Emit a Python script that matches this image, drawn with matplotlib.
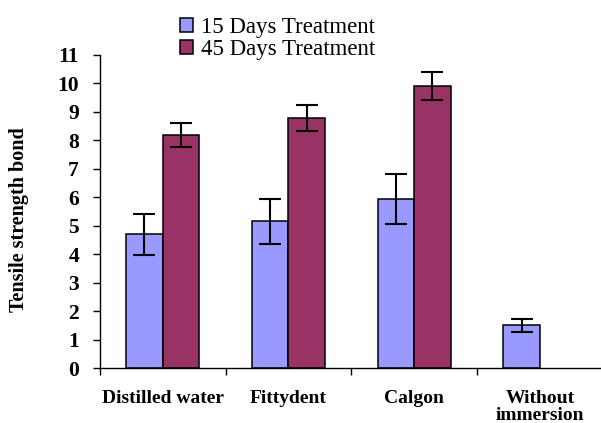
import matplotlib
matplotlib.use("Agg")
import matplotlib.pyplot as plt
import numpy as np

categories = ["Distilled water", "Fittydent", "Calgon", "Without\nimmersion"]
series_names = ["15 Days Treatment", "45 Days Treatment"]
vals_15 = [4.7, 5.15, 5.95, 1.5]
err_15 = [0.72, 0.78, 0.88, 0.22]
vals_45 = [8.2, 8.8, 9.9, np.nan]
err_45 = [0.42, 0.46, 0.49, np.nan]
yticks = list(range(0, 12))

plt.rcParams['font.family'] = ['Liberation Serif', 'DejaVu Serif']

fig = plt.figure(figsize=(6.01, 4.23), dpi=100)
ax = fig.add_axes([0.166, 0.130, 0.837, 0.740])

x = np.arange(len(categories))
w = 0.29
ek = dict(ecolor='black', elinewidth=1.5, capsize=8, capthick=1.5)
ax.bar(x - w / 2, vals_15, w, yerr=err_15, color='#9999FF', edgecolor='black',
       linewidth=1.1, label=series_names[0], error_kw=ek)
ax.bar(x + w / 2, vals_45, w, yerr=err_45, color='#993366', edgecolor='black',
       linewidth=1.1, label=series_names[1], error_kw=ek)

ax.set_xlim(-0.5, 3.5)
ax.set_ylim(0, 11)
ax.set_yticks(yticks)
ax.set_yticklabels([str(t) for t in yticks], fontsize=15.5, fontweight='bold')
ax.set_xticks(x)
ax.set_xticklabels(categories, fontsize=14, fontweight='bold', linespacing=1.0)
ax.tick_params(axis='x', which='major', length=0, pad=15.5)
ax.set_xticks(np.arange(-0.5, 3.0, 1.0), minor=True)
ax.tick_params(axis='x', which='minor', length=5, width=1, direction='out')
ax.tick_params(axis='y', length=5, width=1, direction='out', pad=10)

for s in ['top', 'right']:
    ax.spines[s].set_visible(False)
for s in ['left', 'bottom']:
    ax.spines[s].set_linewidth(1.0)

ax.set_ylabel("Tensile strength bond", fontsize=14.5, fontweight='bold')
ax.yaxis.set_label_coords(-0.14, 0.473)

fig.legend(loc='upper left', bbox_to_anchor=(0.30, 0.96), frameon=False, fontsize=16.5,
           handlelength=0.55, handleheight=0.55, handletextpad=0.35, labelspacing=0.05,
           borderaxespad=0, borderpad=0)

fig.savefig("out.png", dpi=100)
